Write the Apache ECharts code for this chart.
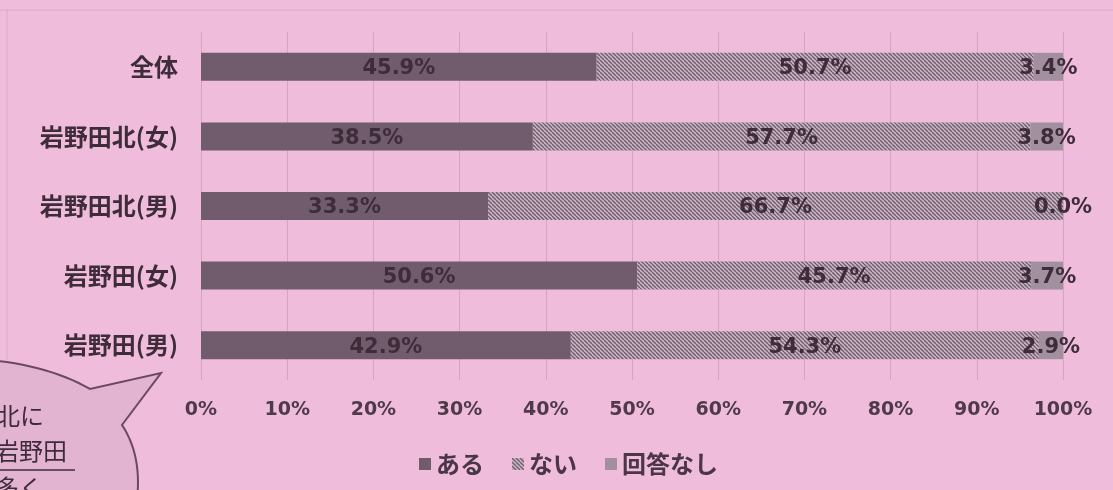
<!DOCTYPE html>
<html><head><meta charset="utf-8">
<script src="https://cdn.jsdelivr.net/npm/echarts@6/dist/echarts.min.js"></script>
<style>html,body{margin:0;padding:0;background:#efbddb;}#c{width:1113px;height:490px;}</style>
</head><body><div id="c"></div>
<script>
const categories = ['全体','岩野田北(女)','岩野田北(男)','岩野田(女)','岩野田(男)'];
const seriesNames = ['ある','ない','回答なし'];
const aru = [45.9, 38.5, 33.3, 50.6, 42.9];
const nai = [50.7, 57.7, 66.7, 45.7, 54.3];
const mukaito = [3.4, 3.8, 0.0, 3.7, 2.9];
const xTicks = [0,10,20,30,40,50,60,70,80,90,100];

function hatch(){
  const c = document.createElement('canvas');
  c.width = 4; c.height = 4;
  const g = c.getContext('2d');
  g.fillStyle = '#c8b4c3'; g.fillRect(0,0,4,4);
  g.strokeStyle = '#705c6c'; g.lineWidth = 1.3;
  for (let k=-4;k<=8;k+=4){ g.beginPath(); g.moveTo(k,0); g.lineTo(k+4,4); g.stroke(); }
  return c;
}
const hatchFill = {image: hatch(), repeat: 'repeat'};

function quad(p0,p1,p2,n){
  const pts=[];
  for(let i=0;i<=n;i++){const t=i/n;
    pts.push([(1-t)*(1-t)*p0[0]+2*(1-t)*t*p1[0]+t*t*p2[0],(1-t)*(1-t)*p0[1]+2*(1-t)*t*p1[1]+t*t*p2[1]]);}
  return pts;
}
const bubblePts = [].concat(
  quad([-10,360],[50,366],[90,389],14),
  [[161,373]],
  quad([122,425],[142,455],[137,500],14),
  [[-10,500]]
);

const FF = '"Noto Sans CJK JP", sans-serif';
const NF = '"DejaVu Sans", "Noto Sans CJK JP", sans-serif';
const labelStyle = {show:true, position:'inside', offset:[0,2], color:'#3e2c3a', fontSize:21, fontWeight:'bold',
  fontFamily:NF, formatter: p => p.value.toFixed(1) + '%'};

const chart = echarts.init(document.getElementById('c'));
chart.setOption({
  backgroundColor:'#efbddb',
  animation:false,
  grid:{left:201, right:50, top:32, bottom:110},
  xAxis:{type:'value', min:0, max:100, interval:10,
    axisLine:{show:false}, axisTick:{show:false},
    splitLine:{lineStyle:{color:'#d6a4c3', width:1}},
    axisLabel:{formatter: v => xTicks.includes(v) ? v + '%' : '', color:'#4e3a4a', fontSize:19, fontWeight:'bold', margin:21, fontFamily:NF}},
  yAxis:{type:'category', data:categories, inverse:true,
    axisLine:{show:false}, axisTick:{show:false},
    axisLabel:{color:'#3e2c3a', fontSize:24, fontWeight:'bold', margin:23, fontFamily:FF}},
  legend:{top:447, left:414, itemWidth:12, itemHeight:12, itemGap:28, icon:'rect',
    textStyle:{color:'#4a3646', fontSize:24, fontWeight:'bold', fontFamily:FF},
    data:seriesNames},
  series:[
    {name:seriesNames[0], type:'bar', stack:'s', data:aru, barWidth:28,
      itemStyle:{color:'#705c6c'}, label:labelStyle},
    {name:seriesNames[1], type:'bar', stack:'s', data:nai, barWidth:28,
      itemStyle:{color:hatchFill}, label:labelStyle},
    {name:seriesNames[2], type:'bar', stack:'s', data:mukaito, barWidth:28,
      itemStyle:{color:'#a3909f'}, label:labelStyle}
  ],
  graphic:[
    {type:'line', shape:{x1:0,y1:10,x2:1113,y2:10}, style:{stroke:'#d8aac8', lineWidth:1}},
    {type:'line', shape:{x1:7,y1:10,x2:7,y2:360}, style:{stroke:'#d8aac8', lineWidth:1}},
    {type:'polygon', shape:{points:bubblePts}, style:{fill:'rgba(226,178,210,0.95)', stroke:'#6a4a62', lineWidth:2}},
    {type:'text', left:-4, top:404, style:{text:'北に', fontSize:24, fill:'#3e2c3a', fontFamily:FF}},
    {type:'text', left:-5, top:439, style:{text:'岩野田', fontSize:24, fill:'#3e2c3a', fontFamily:FF}},
    {type:'line', shape:{x1:0,y1:470,x2:75,y2:470}, style:{stroke:'#3e2c3a', lineWidth:1.5}},
    {type:'text', left:-5, top:476, style:{text:'多く', fontSize:24, fill:'#3e2c3a', fontFamily:FF}}
  ]
});
</script></body></html>
